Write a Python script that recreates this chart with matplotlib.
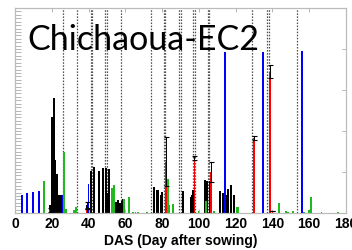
import matplotlib

matplotlib.use("Agg")
import matplotlib.pyplot as plt  # noqa: E402
import numpy as np  # noqa: E402

# irrigation / event markers (days after sowing)
event_days = [25.9, 33.8, 41.1, 42.1, 48.9, 49.9, 57.8, 73.8, 80.8, 81.8,
              89.0, 90.0, 96.7, 97.7, 104.7, 105.7, 129.1, 137.2, 138.1, 153.5]

blue_days = [4.0, 6.7, 9.9, 13.0, 25.8, 40.0, 114.0, 134.9, 156.0]
blue_vals = [8.8, 9.6, 10.1, 10.7, 8.8, 14.0, 78.5, 78.5, 79.0]

red_days = [19.0, 38.9, 82.0, 97.6, 106.6, 129.8, 138.7, 140.0]
red_vals = [1.5, 2.0, 25.0, 26.7, 20.0, 36.4, 69.0, 1.0]
red_err = [1.0, 0.0, 12.0, 1.0, 5.0, 1.0, 3.0, 0.0]

black_days = [19, 20, 21, 22, 23, 24, 25, 26, 27, 39, 41.5, 42.8, 45.7, 48, 49.4,
              50.5, 51, 55, 56, 57, 58, 59, 75.6, 77, 78, 79.2, 80, 82, 91.6, 95.5,
              96.4, 97, 103.5, 104.5, 106, 111.7, 113, 115, 115.7, 117.5, 119.3]
black_vals = [4, 47, 56, 26, 19, 9, 9, 9, 2, 4, 20.6, 22.6, 20.6, 21.8, 21.8,
              10, 21.3, 5.5, 6.3, 5, 6, 6.7, 12.8, 11, 11, 9, 10.4, 13.7, 10.9, 8,
              9, 11, 16, 15.8, 15.8, 10.9, 10, 8.8, 11.7, 13.7, 9]

green_days = [15.9, 26.8, 27.6, 32.0, 33.4, 52.8, 53.8, 59.5, 61.8, 64, 65.5, 67,
              72, 83, 84, 85.8, 99.8, 103.8, 108, 120.5, 121.5, 143.7, 147.5, 148.3,
              151, 157, 160, 160.9, 166.7, 175.7]
green_vals = [15.6, 30, 2, 1.5, 3, 12, 13.6, 7, 8, 0.5, 0.5, 0.5,
              0.5, 16.4, 4, 4.4, 1, 6, 1, 3, 3, 4.7, 1, 0.5,
              1, 0.5, 1.5, 8, 0.3, 0.3]

x_ticks = [0, 20, 40, 60, 80, 100, 120, 140, 160, 180]

plt.rcParams["lines.scale_dashes"] = False

fig = plt.figure(figsize=(3.52, 2.5), dpi=100)
ax = fig.add_axes([15 / 352, 37 / 250, 331 / 352, 205 / 250])

for d in event_days:
    ax.axvline(d, color="#4d4d4d", lw=0.9, dashes=(1.1, 1.1), zorder=1)

ax.bar(black_days, black_vals, width=1.1, color="black", zorder=2)
ax.bar(green_days, green_vals, width=1.0, color="#22b822", zorder=3)
ax.bar(blue_days, blue_vals, width=1.0, color="#0000ff", zorder=3)
ax.bar(red_days, red_vals, width=1.0, color="#ff0000", zorder=4)
ax.errorbar(red_days, red_vals, yerr=red_err, fmt="none", ecolor="black",
            elinewidth=0.7, capsize=1.8, capthick=0.8, zorder=5)
ax.errorbar([39], [4], yerr=[1.5], fmt="none", ecolor="black",
            elinewidth=0.7, capsize=1.8, capthick=0.8, zorder=5)

ax.set_xlim(0, 180)
ax.set_ylim(0, 100)
ax.set_xticks(x_ticks)
ax.set_xticklabels([str(t) for t in x_ticks], fontsize=10, fontweight="bold",
                   family="Liberation Sans")
ax.set_xlabel("DAS (Day after sowing)", fontsize=10, fontweight="bold",
              family="Liberation Sans", labelpad=2)

# dense ticks on the left edge, sparse ones on the right
ax.set_yticks(np.linspace(0, 100, 61))
ax.set_yticklabels([])
ax.tick_params(axis="y", which="major", direction="in", length=4, width=0.5,
               color="#999999", left=True, right=False)
ax2 = ax.twinx()
ax2.set_ylim(0, 100)
ax2.set_yticks([0, 20, 40, 60, 80, 100])
ax2.set_yticklabels([])
ax2.tick_params(axis="y", direction="in", length=3, width=0.5, color="#999999")
ax.tick_params(axis="x", direction="in", length=3, width=0.5, color="#999999",
               top=True, pad=3)

for a in (ax, ax2):
    for s in a.spines.values():
        s.set_color("#bbbbbb")
        s.set_linewidth(0.8)

ax.text(6.5, 92, "Chichaoua-EC2", fontsize=24.5, family="Lato", va="top",
        ha="left", zorder=6)

fig.savefig("out.png", dpi=100)
